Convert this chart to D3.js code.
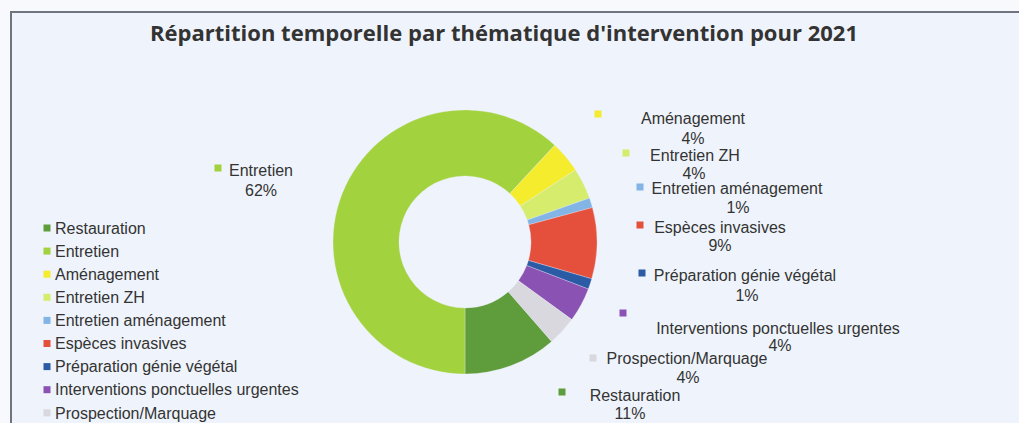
<!DOCTYPE html>
<html>
<head>
<meta charset="utf-8">
<script src="https://cdn.jsdelivr.net/npm/d3@7"></script>
<style>
  html, body { margin: 0; padding: 0; background: #f7f8fc; }
  svg { display: block; }
</style>
</head>
<body>
<svg id="chart" width="1019" height="423"></svg>
<script>
// ---- Data ----
const title = "Répartition temporelle par thématique d'intervention pour 2021";
const categories = [
  "Restauration", "Entretien", "Aménagement", "Entretien ZH",
  "Entretien aménagement", "Espèces invasives", "Préparation génie végétal",
  "Interventions ponctuelles urgentes", "Prospection/Marquage"
];
const values = [11.4, 61.9, 3.9, 3.8, 1.2, 8.7, 1.3, 4.2, 3.6];
const colors = [
  "#5f9d3c", "#a2d23e", "#f4ec2c", "#d5ec6c",
  "#82b4e6", "#e4503c", "#2c5ba6", "#8a52b2", "#d8d8de"
];
const labelNames = categories.slice();

// ---- Layout (positions of data labels) ----
const labelLayout = [
  { mx: 562, my: 392, tx: 635, ty: 395, px: 630, py: 413 }, // Restauration
  { mx: 218, my: 168, tx: 261, ty: 170, px: 261, py: 190 }, // Entretien
  { mx: 598, my: 114, tx: 693, ty: 118, px: 693, py: 138 }, // Aménagement
  { mx: 626, my: 153, tx: 695, ty: 155, px: 694, py: 173 }, // Entretien ZH
  { mx: 640, my: 187, tx: 737, ty: 188, px: 738, py: 207 }, // Entretien aménagement
  { mx: 640, my: 225, tx: 720, ty: 227, px: 720, py: 245 }, // Espèces invasives
  { mx: 642, my: 273, tx: 745, ty: 275, px: 747, py: 295 }, // Préparation génie végétal
  { mx: 623, my: 313, tx: 778, ty: 328, px: 780, py: 345 }, // Interventions
  { mx: 593, my: 358, tx: 687, ty: 358, px: 688, py: 377 }  // Prospection
];

const svg = d3.select("#chart");
const FONT = "'Liberation Sans', Arial, sans-serif";
const TEXT = "#333333";

// frame
svg.append("rect").attr("x", 0).attr("y", 0).attr("width", 1019).attr("height", 423).attr("fill", "#f8f9fc");
svg.append("rect").attr("x", 11).attr("y", 12).attr("width", 1020).attr("height", 420).attr("fill", "#eff3fb");
svg.append("path").attr("d", "M11,423 L11,12 L1019,12").attr("fill", "none").attr("stroke", "#70747e").attr("stroke-width", 2);

// title
svg.append("text")
  .attr("x", 504).attr("y", 41)
  .attr("text-anchor", "middle")
  .attr("font-family", "'Open Sans', sans-serif")
  .attr("font-weight", "bold")
  .attr("font-size", 21)
  .attr("fill", "#333333")
  .attr("textLength", 708)
  .attr("lengthAdjust", "spacingAndGlyphs")
  .text(title);

// donut
const cx = 465, cy = 242, rOut = 132, rIn = 66;
const total = d3.sum(values);
const startDeg = 180 - values[0] / total * 360;
const pie = d3.pie().sort(null).value(d => d)
  .startAngle(startDeg * Math.PI / 180)
  .endAngle(startDeg * Math.PI / 180 + 2 * Math.PI);
const arc = d3.arc().innerRadius(rIn).outerRadius(rOut);
const color = d3.scaleOrdinal().domain(categories).range(colors);

const g = svg.append("g").attr("transform", `translate(${cx},${cy})`);
g.selectAll("path.slice")
  .data(pie(values))
  .join("path")
  .attr("class", "slice")
  .attr("d", arc)
  .attr("fill", (d, i) => color(categories[i]))
  .attr("stroke", "#eef2fa")
  .attr("stroke-width", 0.3);

// data labels
const pct = v => Math.round(v / total * 100) + "%";
const lbl = svg.append("g");
categories.forEach((c, i) => {
  const L = labelLayout[i];
  lbl.append("rect")
    .attr("x", L.mx - 3.5).attr("y", L.my - 3.5)
    .attr("width", 7).attr("height", 7)
    .attr("fill", color(c));
  lbl.append("text")
    .attr("x", L.tx).attr("y", L.ty).attr("dy", "0.36em")
    .attr("text-anchor", "middle")
    .attr("font-family", FONT).attr("font-size", 16).attr("fill", TEXT)
    .text(labelNames[i]);
  lbl.append("text")
    .attr("x", L.px).attr("y", L.py).attr("dy", "0.36em")
    .attr("text-anchor", "middle")
    .attr("font-family", FONT).attr("font-size", 16).attr("fill", TEXT)
    .text(pct(values[i]));
});

// legend
const legendX = 47, legendY0 = 228, legendStep = 23.1;
const leg = svg.append("g");
categories.forEach((c, i) => {
  const y = legendY0 + i * legendStep;
  leg.append("rect")
    .attr("x", legendX - 3.5).attr("y", y - 3.5)
    .attr("width", 7).attr("height", 7)
    .attr("fill", color(c));
  leg.append("text")
    .attr("x", legendX + 8).attr("y", y).attr("dy", "0.36em")
    .attr("font-family", FONT).attr("font-size", 16).attr("fill", TEXT)
    .text(c);
});
</script>
</body>
</html>
